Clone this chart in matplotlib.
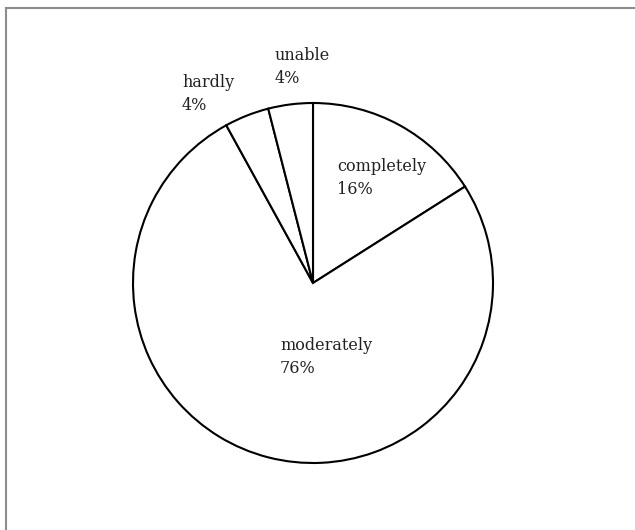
import matplotlib
matplotlib.use('Agg')
import matplotlib.pyplot as plt

# slices, clockwise from 12 o'clock
categories = ['completely', 'moderately', 'hardly', 'unable']
shares = [16, 76, 4, 4]

# label anchor (left edge, vertical centre of the two-line block), in pixels
label_px = {
    'completely': (337, 178),
    'moderately': (280, 357),
    'hardly': (182, 94),
    'unable': (275, 67),
}

W, H = 635, 530
cx, cy, r = 313, 283, 180

fig = plt.figure(figsize=(W / 100, H / 100), dpi=100)
ax = fig.add_axes([(cx - r) / W, (H - cy - r) / H, 2 * r / W, 2 * r / H])
ax.pie(shares, startangle=90, counterclock=False, radius=1,
       colors=['white'] * len(shares),
       wedgeprops=dict(edgecolor='black', linewidth=1.5))
ax.set_xlim(-1, 1)
ax.set_ylim(-1, 1)
ax.set_aspect('equal')
ax.axis('off')

for name, share in zip(categories, shares):
    px, py = label_px[name]
    fig.text(px / W, 1 - py / H, f'{name}\n{share}%', ha='left', va='center',
             family='DejaVu Serif', fontsize=11.5, color='#222222',
             linespacing=1.45)

# grey frame; only top and left edges fall inside the picture
fig.add_artist(plt.Line2D([6 / W, 1], [1 - 8 / H, 1 - 8 / H], color='#8c8c8c', lw=1.5))
fig.add_artist(plt.Line2D([6 / W, 6 / W], [0, 1 - 8 / H], color='#8c8c8c', lw=1.5))

fig.savefig('out.png', dpi=100)
